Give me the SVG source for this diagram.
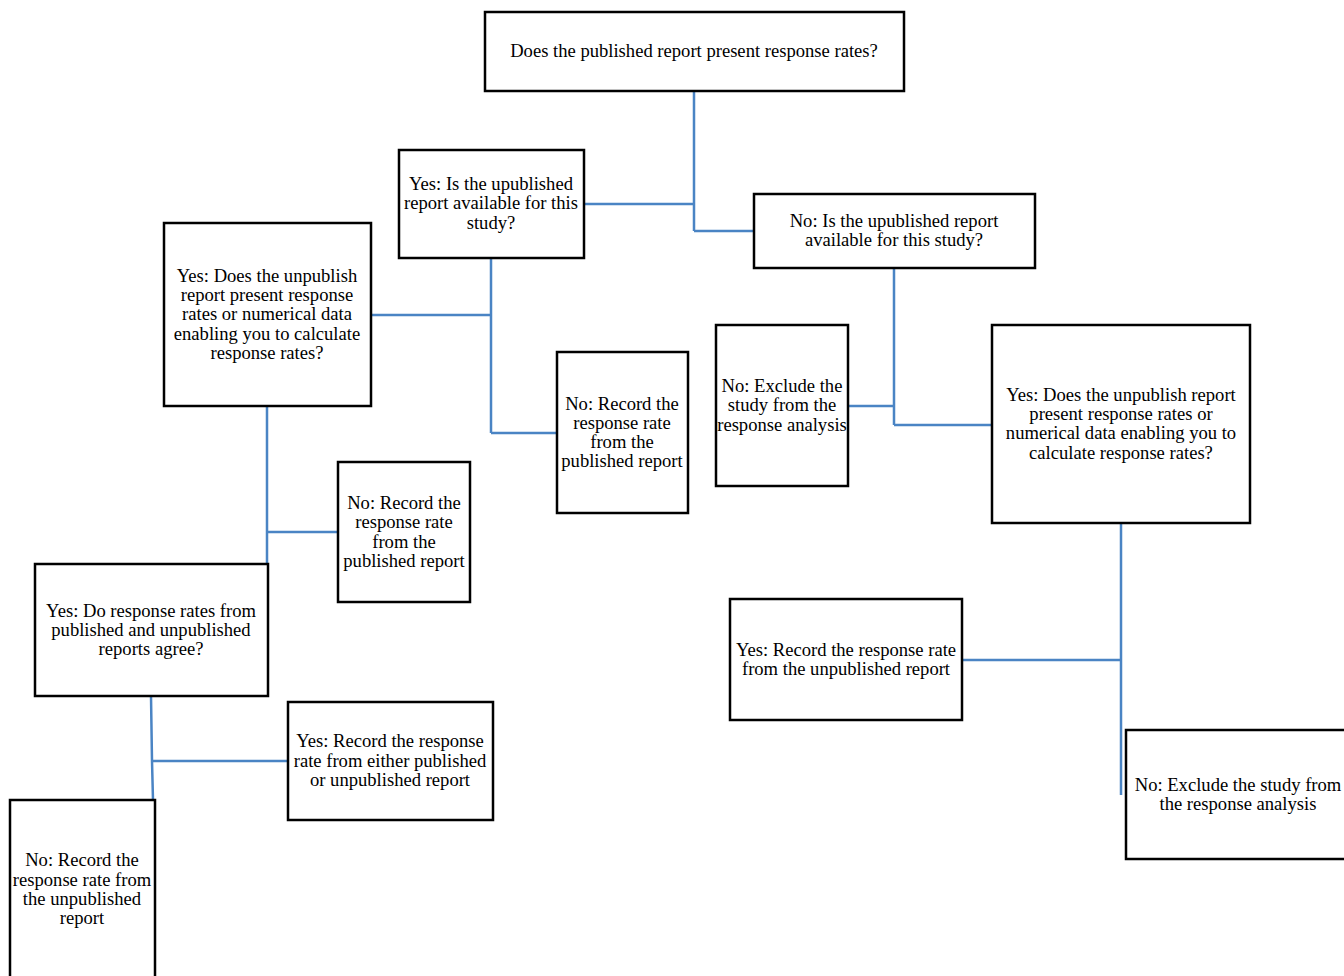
<svg xmlns="http://www.w3.org/2000/svg" width="1344" height="976" viewBox="0 0 1344 976">
<style>
.b{fill:#fff;stroke:#000;stroke-width:2.5}
.t{font-family:"Liberation Serif","Times New Roman",serif;font-size:18.6px;fill:#000;text-anchor:middle}
.c{fill:none;stroke:#4a84c4;stroke-width:2.5}
</style>
<rect width="1344" height="976" fill="#fff"/>
<g id="connectors">
<path class="c" d="M694 91V231M584 204H694M694 231H754"/>
<path class="c" d="M491 258V433M371 315H491M491 433H557"/>
<path class="c" d="M894 268V425M848 406H894M894 425H992"/>
<path class="c" d="M267 406V564M267 532H338"/>
<path class="c" d="M151 696L152 761L153 800M152 761H288"/>
<path class="c" d="M1121 523V795M962 660H1121"/>
</g>
<g id="n1"><rect class="b" x="485" y="12" width="419" height="79"/><text class="t" x="694" y="57">Does the published report present response rates?</text></g>
<g id="n2"><rect class="b" x="399" y="150" width="185" height="108"/><text class="t" x="491" y="190">Yes: Is the upublished</text><text class="t" x="491" y="209">report available for this</text><text class="t" x="491" y="229">study?</text></g>
<g id="n3"><rect class="b" x="754" y="194" width="281" height="74"/><text class="t" x="894" y="227">No: Is the upublished report</text><text class="t" x="894" y="246">available for this study?</text></g>
<g id="n4"><rect class="b" x="164" y="223" width="207" height="183"/><text class="t" x="267" y="282">Yes: Does the unpublish</text><text class="t" x="267" y="301">report present response</text><text class="t" x="267" y="320">rates or numerical data</text><text class="t" x="267" y="340">enabling you to calculate</text><text class="t" x="267" y="359">response rates?</text></g>
<g id="n5"><rect class="b" x="557" y="352" width="131" height="161"/><text class="t" x="622" y="410">No: Record the</text><text class="t" x="622" y="429">response rate</text><text class="t" x="622" y="448">from the</text><text class="t" x="622" y="467">published report</text></g>
<g id="n6"><rect class="b" x="716" y="325" width="132" height="161"/><text class="t" x="782" y="392">No: Exclude the</text><text class="t" x="782" y="411">study from the</text><text class="t" x="782" y="431">response analysis</text></g>
<g id="n7"><rect class="b" x="992" y="325" width="258" height="198"/><text class="t" x="1121" y="401">Yes: Does the unpublish report</text><text class="t" x="1121" y="420">present response rates or</text><text class="t" x="1121" y="439">numerical data enabling you to</text><text class="t" x="1121" y="459">calculate response rates?</text></g>
<g id="n8"><rect class="b" x="338" y="462" width="132" height="140"/><text class="t" x="404" y="509">No: Record the</text><text class="t" x="404" y="528">response rate</text><text class="t" x="404" y="548">from the</text><text class="t" x="404" y="567">published report</text></g>
<g id="n9"><rect class="b" x="35" y="564" width="233" height="132"/><text class="t" x="151" y="617">Yes: Do response rates from</text><text class="t" x="151" y="636">published and unpublished</text><text class="t" x="151" y="655">reports agree?</text></g>
<g id="n10"><rect class="b" x="288" y="702" width="205" height="118"/><text class="t" x="390" y="747">Yes: Record the response</text><text class="t" x="390" y="767">rate from either published</text><text class="t" x="390" y="786">or unpublished report</text></g>
<g id="n11"><rect class="b" x="10" y="800" width="145" height="185"/><text class="t" x="82" y="866">No: Record the</text><text class="t" x="82" y="886">response rate from</text><text class="t" x="82" y="905">the unpublished</text><text class="t" x="82" y="924">report</text></g>
<g id="n12"><rect class="b" x="730" y="599" width="232" height="121"/><text class="t" x="846" y="656">Yes: Record the response rate</text><text class="t" x="846" y="675">from the unpublished report</text></g>
<g id="n13"><rect class="b" x="1126" y="730" width="226" height="129"/><text class="t" x="1238" y="791">No: Exclude the study from</text><text class="t" x="1238" y="810">the response analysis</text></g>
</svg>
